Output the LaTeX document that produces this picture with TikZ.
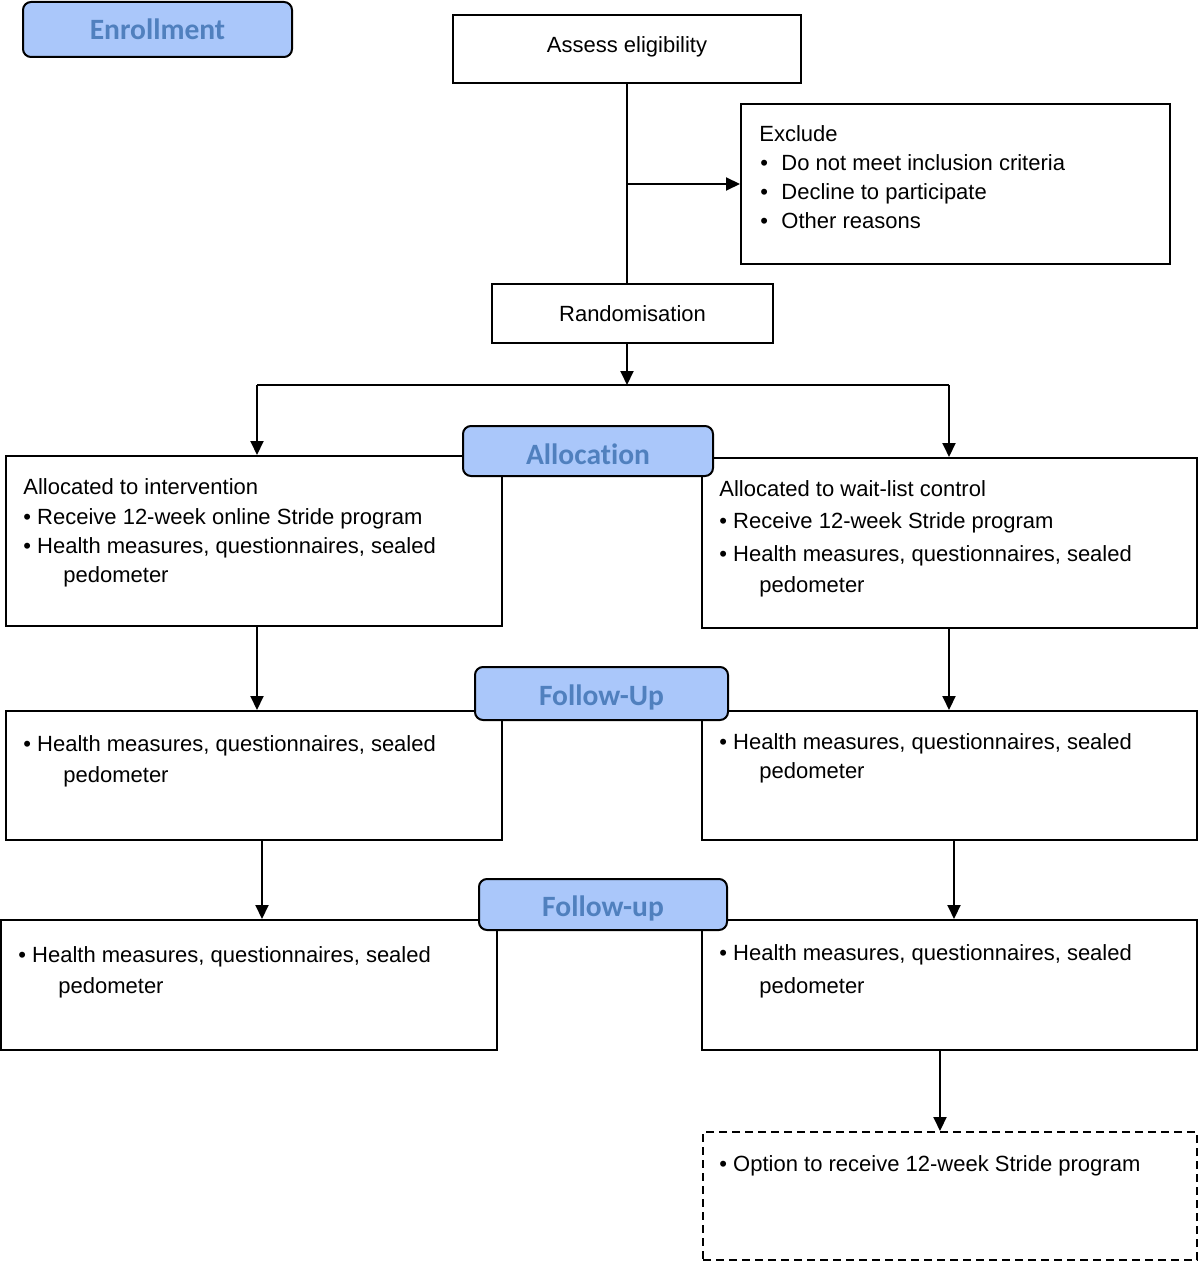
\documentclass[tikz,border=0pt]{standalone}
\usepackage{fontspec}
\setmainfont{Liberation Sans}
\newfontfamily\labelfont{Carlito}[Ligatures=NoCommon]
\usetikzlibrary{fit,arrows.meta}
\definecolor{lblfill}{RGB}{170,199,250}
\definecolor{lbltext}{RGB}{80,128,190}
\begin{document}
\begin{tikzpicture}[x=0.5pt,y=-0.5pt,
  box/.style={draw, line width=1pt, inner sep=0pt, fill=white},
  dbox/.style={box, dash pattern=on 4pt off 2.5pt},
  lbl/.style={draw, line width=1pt, fill=lblfill, rounded corners=4pt, inner sep=0pt},
  lbltxt/.style={inner sep=0pt, text=lbltext, text depth=0pt,
    font=\labelfont\bfseries\fontsize{14.75}{17}\selectfont},
  ctxt/.style={inner sep=0pt, text depth=0pt, font=\fontsize{11}{13}\selectfont},
  txt/.style={anchor=base west, inner sep=0pt, font=\fontsize{11}{13}\selectfont},
  arr/.style={line width=1pt, -{Triangle[length=7pt,width=6.5pt]}},
  conn/.style={line width=1pt}]
\useasboundingbox (0,0) rectangle (1200,1262);

% boxes
\node[box, fit={(453,15)(801,83)}, label={[ctxt, yshift=2pt]center:Assess eligibility}] (assess) {};
\node[box, fit={(741,104)(1170,264)}] (excl) {};
\node[box, fit={(492,284)(773,343)}, label={[ctxt]center:Randomisation}] (rand) {};
\node[box, fit={(6,456)(502,626)}] (L1) {};
\node[box, fit={(702,458)(1197,628)}] (R1) {};
\node[box, fit={(6,711)(502,840)}] (L2) {};
\node[box, fit={(702,711)(1197,840)}] (R2) {};
\node[box, fit={(1,920)(497,1050)}] (L3) {};
\node[box, fit={(702,920)(1197,1050)}] (R3) {};
\node[dbox, fit={(703,1132)(1197,1260)}] (opt) {};

% stage labels
\node[lbl, fit={(23,2)(292,57)}, label={[lbltxt]center:Enrollment}] (enr) {};
\node[lbl, fit={(463,426)(713,476)}, label={[lbltxt, yshift=-1.5pt]center:Allocation}] (alloc) {};
\node[lbl, fit={(475,667)(728,720)}, label={[lbltxt, yshift=-1pt]center:Follow-Up}] (fu1) {};
\node[lbl, fit={(479,879)(727,930)}, label={[lbltxt, yshift=-1pt]center:Follow-up}] (fu2) {};

% texts
\node[txt] (ex0) at (759,142) {Exclude};
\node[txt] (ex1) at (760,171) {\makebox[10.5pt][l]{•}Do not meet inclusion criteria};
\node[txt] (ex2) at (760,200) {\makebox[10.5pt][l]{•}Decline to participate};
\node[txt] (ex3) at (760,229) {\makebox[10.5pt][l]{•}Other reasons};

\node[txt] (l1a) at (23,494) {Allocated to intervention};
\node[txt] (l1b) at (23,524) {• Receive 12-week online Stride program};
\node[txt] (l1c) at (23,553) {• Health measures, questionnaires, sealed};
\node[txt] (l1d) at (63,582) {pedometer};

\node[txt] (r1a) at (719,496) {Allocated to wait-list control};
\node[txt] (r1b) at (719,528) {• Receive 12-week Stride program};
\node[txt] (r1c) at (719,561) {• Health measures, questionnaires, sealed};
\node[txt] (r1d) at (759,592) {pedometer};

\node[txt] (l2a) at (23,751) {• Health measures, questionnaires, sealed};
\node[txt] (l2b) at (63,782) {pedometer};
\node[txt] (r2a) at (719,749) {• Health measures, questionnaires, sealed};
\node[txt] (r2b) at (759,778) {pedometer};

\node[txt] (l3a) at (18,962) {• Health measures, questionnaires, sealed};
\node[txt] (l3b) at (58,993) {pedometer};
\node[txt] (r3a) at (719,960) {• Health measures, questionnaires, sealed};
\node[txt] (r3b) at (759,993) {pedometer};

\node[txt] (opta) at (719,1171) {• Option to receive 12-week Stride program};

% connectors
\coordinate (ax) at (627,184);
\coordinate (split) at (627,385);
\coordinate (splitL) at (257,385);
\coordinate (splitR) at (949,385);
\draw[conn] (assess.south -| ax) -- (rand.north -| ax);
\draw[arr] (ax) -- (excl.west |- ax);
\draw[arr] (rand.south -| split) -- (split);
\draw[conn] (splitL) -- (splitR);
\draw[arr] (splitL) -- (L1.north -| splitL);
\draw[arr] (splitR) -- (R1.north -| splitR);

\coordinate (c1) at (257,0);
\coordinate (c2) at (949,0);
\coordinate (c3) at (262,0);
\coordinate (c4) at (954,0);
\coordinate (c5) at (940,0);
\draw[arr] (L1.south -| c1) -- (L2.north -| c1);
\draw[arr] (R1.south -| c2) -- (R2.north -| c2);
\draw[arr] (L2.south -| c3) -- (L3.north -| c3);
\draw[arr] (R2.south -| c4) -- (R3.north -| c4);
\draw[arr] (R3.south -| c5) -- (opt.north -| c5);
\end{tikzpicture}
\end{document}
